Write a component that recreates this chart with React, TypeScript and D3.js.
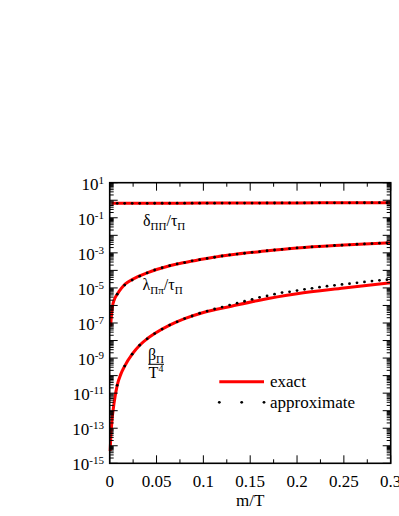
import React from 'react'
import * as d3 from 'd3'

// m/T grid of the "approximate" markers
const dotX = [
  0.008, 0.016, 0.024, 0.032, 0.04, 0.048, 0.056, 0.064, 0.072, 0.08,
  0.088, 0.096, 0.104, 0.112, 0.12, 0.128, 0.136, 0.144, 0.152, 0.16,
  0.168, 0.176, 0.184, 0.192, 0.2, 0.208, 0.216, 0.224, 0.232, 0.24,
  0.248, 0.256, 0.264, 0.272, 0.28, 0.288, 0.296,
]

// delta_PiPi / tau_Pi
const deltaExactX = [0.002, 0.05, 0.1, 0.15, 0.2, 0.25, 0.3]
const deltaExact = [0.667, 0.675, 0.685, 0.695, 0.705, 0.715, 0.73]
const deltaApprox = [
  0.667, 0.668, 0.669, 0.67, 0.671, 0.672, 0.673, 0.675, 0.676, 0.678,
  0.679, 0.681, 0.683, 0.684, 0.686, 0.687, 0.689, 0.69, 0.692, 0.693,
  0.695, 0.697, 0.699, 0.7, 0.702, 0.704, 0.706, 0.708, 0.71, 0.712,
  0.714, 0.716, 0.718, 0.72, 0.722, 0.725, 0.728,
]

// lambda_Pipi / tau_Pi
const lambdaExactX = [
  0.001, 0.002, 0.003, 0.005, 0.0075, 0.01, 0.015, 0.02, 0.03, 0.04,
  0.05, 0.065, 0.08, 0.1, 0.13, 0.16, 0.2, 0.25, 0.3,
]
const lambdaExact = [
  6.3e-8, 3.2e-7, 8.9e-7, 2.2e-6, 4.0e-6, 6.3e-6, 1.38e-5, 2.24e-5, 4.4e-5, 7.2e-5,
  1.12e-4, 1.91e-4, 2.8e-4, 4.5e-4, 7.8e-4, 1.17e-3, 1.91e-3, 2.8e-3, 3.8e-3,
]
const lambdaApprox = [
  4.4e-6, 1.45e-5, 2.8e-5, 4.7e-5, 7.2e-5, 1.05e-4, 1.41e-4, 1.86e-4, 2.34e-4, 2.8e-4,
  3.5e-4, 4.1e-4, 4.8e-4, 5.6e-4, 6.6e-4, 7.6e-4, 8.5e-4, 9.5e-4, 1.07e-3, 1.17e-3,
  1.32e-3, 1.45e-3, 1.58e-3, 1.74e-3, 1.91e-3, 2.04e-3, 2.19e-3, 2.34e-3, 2.45e-3, 2.63e-3,
  2.75e-3, 2.88e-3, 3.09e-3, 3.24e-3, 3.39e-3, 3.55e-3, 3.72e-3,
]

// beta_Pi / T^4
const betaExactX = [
  0.0005, 0.001, 0.0025, 0.0046, 0.008, 0.012, 0.016, 0.024, 0.032, 0.04,
  0.048, 0.064, 0.08, 0.1, 0.13, 0.16, 0.2, 0.25, 0.3,
]
const betaExact = [
  5.0e-15, 2.1e-14, 3.0e-13, 2.6e-12, 2.8e-11, 1.26e-10, 3.5e-10, 1.66e-9, 5.4e-9, 1.26e-8,
  2.5e-8, 7.6e-8, 1.78e-7, 4.0e-7, 9.1e-7, 2.0e-6, 4.6e-6, 9.8e-6, 2.0e-5,
]
const betaApprox = [
  2.8e-11, 3.5e-10, 1.66e-9, 5.4e-9, 1.26e-8, 2.5e-8, 4.5e-8, 7.6e-8, 1.17e-7, 1.78e-7,
  2.5e-7, 3.6e-7, 4.8e-7, 6.3e-7, 8.1e-7, 1.05e-6, 1.35e-6, 1.74e-6, 2.24e-6, 2.9e-6,
  3.5e-6, 4.4e-6, 5.4e-6, 6.0e-6, 7.1e-6, 8.3e-6, 9.5e-6, 1.1e-5, 1.26e-5, 1.41e-5,
  1.58e-5, 1.74e-5, 1.95e-5, 2.19e-5, 2.45e-5, 2.7e-5, 2.95e-5,
]

const xMajor = [0, 0.05, 0.1, 0.15, 0.2, 0.25, 0.3]
const xMinor = [0.025, 0.075, 0.125, 0.175, 0.225, 0.275]
const xLabels = ['0', '0.05', '0.1', '0.15', '0.2', '0.25', '0.3']
const yExponents = [1, 0, -1, -2, -3, -4, -5, -6, -7, -8, -9, -10, -11, -12, -13, -14, -15]
const yLabelExponents = [1, -1, -3, -5, -7, -9, -11, -13, -15]

const W = 399
const H = 516
const serif = { fontFamily: 'Liberation Serif' }

const x = d3.scaleLinear().domain([0, 0.3]).range([109.7, 390.7])
const y = d3.scaleLog().domain([1e-15, 10]).range([463.3, 182.7])

const curve = d3
  .line<[number, number]>()
  .x(d => x(d[0]))
  .y(d => y(d[1]))
  .curve(d3.curveMonotoneX)

const zip = (xs: number[], ys: number[]) => xs.map((v, i) => [v, ys[i]] as [number, number])

const App = () => {
  const [x0, x1] = x.range()
  const [y0, y1] = y.range()

  const minorY: number[] = []
  yExponents.forEach(e => {
    if (e >= 1) return
    for (let k = 2; k <= 9; k++) minorY.push(k * Math.pow(10, e))
  })

  const exact = [
    zip(deltaExactX, deltaExact),
    zip(lambdaExactX, lambdaExact),
    zip(betaExactX, betaExact),
  ]
  const approx = [deltaApprox, lambdaApprox, betaApprox]

  return (
    <svg width={W} height={H} style={{ position: 'absolute', left: 0, top: 0 }}>
      <rect width={W} height={H} fill="white" />

      {/* curves */}
      {exact.map((pts, i) => (
        <path key={i} d={curve(pts) || ''} fill="none" stroke="#ff0000" strokeWidth={3} />
      ))}
      {approx.map((vals, i) =>
        vals.map((v, j) => (
          <circle key={`${i}-${j}`} cx={x(dotX[j])} cy={y(v)} r={1.4} fill="black" />
        ))
      )}

      {/* ticks */}
      <g stroke="black" strokeWidth={1}>
        {xMajor.map(t => (
          <g key={t}>
            <line x1={x(t)} x2={x(t)} y1={y0} y2={y0 - 8} />
            <line x1={x(t)} x2={x(t)} y1={y1} y2={y1 + 8} />
          </g>
        ))}
        {xMinor.map(t => (
          <g key={t}>
            <line x1={x(t)} x2={x(t)} y1={y0} y2={y0 - 4} />
            <line x1={x(t)} x2={x(t)} y1={y1} y2={y1 + 4} />
          </g>
        ))}
        {yExponents.map(e => (
          <g key={e}>
            <line x1={x0} x2={x0 + 8} y1={y(Math.pow(10, e))} y2={y(Math.pow(10, e))} />
            <line x1={x1} x2={x1 - 8} y1={y(Math.pow(10, e))} y2={y(Math.pow(10, e))} />
          </g>
        ))}
        {minorY.map((v, i) => (
          <g key={i}>
            <line x1={x0} x2={x0 + 4} y1={y(v)} y2={y(v)} />
            <line x1={x1} x2={x1 - 4} y1={y(v)} y2={y(v)} />
          </g>
        ))}
      </g>
      <rect x={x0} y={y1} width={x1 - x0} height={y0 - y1} fill="none" stroke="black" strokeWidth={1.6} />

      {/* tick labels */}
      {xMajor.map((t, i) => (
        <text key={t} x={x(t)} y={486.5} textAnchor="middle" fontSize={17} style={serif}>
          {xLabels[i]}
        </text>
      ))}
      {yLabelExponents.map(e => (
        <text key={e} x={104} y={y(Math.pow(10, e)) + 7} textAnchor="end" fontSize={17} style={serif}>
          10
          <tspan dy={-6} fontSize={11}>
            {e}
          </tspan>
        </text>
      ))}
      <text x={(x0 + x1) / 2} y={506} textAnchor="middle" fontSize={17} style={serif}>
        m/T
      </text>

      {/* annotations */}
      <text x={143} y={226} fontSize={16} style={serif}>
        δ<tspan dy={4} fontSize={11}>ΠΠ</tspan>
        <tspan dy={-4}>/τ</tspan>
        <tspan dy={4} fontSize={11}>Π</tspan>
      </text>
      <text x={142.5} y={290} fontSize={16} style={serif}>
        λ<tspan dy={4} fontSize={11}>Ππ</tspan>
        <tspan dy={-4}>/τ</tspan>
        <tspan dy={4} fontSize={11}>Π</tspan>
      </text>
      <text x={156} y={359.5} fontSize={16} textAnchor="middle" style={serif}>
        β<tspan dy={3} fontSize={11}>Π</tspan>
      </text>
      <line x1={148.3} x2={164} y1={364.3} y2={364.3} stroke="black" strokeWidth={1} />
      <text x={156} y={378} fontSize={16} textAnchor="middle" style={serif}>
        T<tspan dy={-6} fontSize={10}>4</tspan>
      </text>

      {/* legend */}
      <line x1={219.3} x2={264} y1={381.7} y2={381.7} stroke="#ff0000" strokeWidth={3} />
      <text x={270} y={387} fontSize={17} style={serif}>
        exact
      </text>
      {[219.3, 241.7, 264].map(cx => (
        <circle key={cx} cx={cx} cy={402.3} r={1.4} fill="black" />
      ))}
      <text x={270} y={408} fontSize={17} style={serif}>
        approximate
      </text>
    </svg>
  )
}

export default App
